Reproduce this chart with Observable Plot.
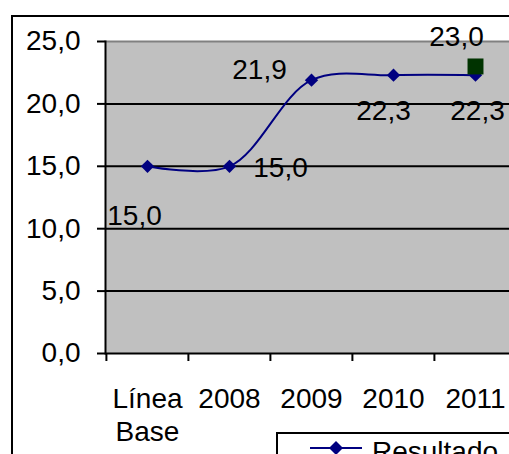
<!DOCTYPE html>
<html><head><meta charset="utf-8">
<script src="https://cdn.jsdelivr.net/npm/d3@7"></script>
<script src="https://cdn.jsdelivr.net/npm/@observablehq/plot@0.6"></script>
<style>
html,body{margin:0;padding:0;background:#fff;}
body{width:509px;height:454px;overflow:hidden;position:relative;font-family:"Liberation Sans",Arial,sans-serif;}
#outer{position:absolute;left:11px;top:15px;width:700px;height:700px;border-left:2px solid #000;border-top:2px solid #000;box-sizing:border-box;}
#chart{position:absolute;left:0;top:0;}
#legend{position:absolute;left:276px;top:432px;width:300px;height:60px;border:2px solid #000;background:#fff;box-sizing:border-box;}
#legend span{position:absolute;left:94px;top:4px;font-size:28px;line-height:28px;color:#000;white-space:nowrap;}
#legend svg{position:absolute;left:0;top:0;}
</style>
</head><body>
<div id="outer"></div>
<div id="chart"></div>
<div id="legend"><svg width="100" height="30"><line x1="32" x2="84" y1="14" y2="14" stroke="#000080" stroke-width="2"/><path d="M58,7L65,14L58,21L51,14Z" fill="#000080"/></svg><span>Resultado</span></div>
<script>
const categories = ["Línea Base", "2008", "2009", "2010", "2011"];
const resultado = [15.0, 15.0, 21.9, 22.3, 22.3];
const metaCategories = ["2011"];
const metaValues = [23.0];
const yTicks = [0, 5, 10, 15, 20, 25];
const gridTicks = [0, 5, 10, 15, 20];
const xTickLabels = ["Línea\nBase", "2008", "2009", "2010", "2011"];

const data = categories.map((c, i) => ({cat: c, value: resultado[i]}));
const meta = metaCategories.map((c, i) => ({cat: c, value: metaValues[i]}));
const fmt = d => d.toFixed(1).replace(".", ",");
const half = (516 - 105) / categories.length / 2;
const lbl = (i, dx, dy) => Plot.text(data.filter((d, j) => j === i), {x: "cat", y: "value", text: d => fmt(d.value), dx, dy, fill: "#000"});

const chart = Plot.plot({
  width: 509, height: 454,
  marginLeft: 105, marginTop: 41, marginBottom: 101, marginRight: -10,
  style: {fontFamily: "'Liberation Sans', Arial, sans-serif", fontSize: "28px", background: "transparent", color: "#000", overflow: "hidden"},
  x: {type: "point", domain: categories, range: [105, 516], padding: 0.5},
  y: {domain: [0, 25], range: [353, 41]},
  marks: [
    Plot.frame({fill: "#c0c0c0"}),
    Plot.gridY(gridTicks, {stroke: "#000", strokeOpacity: 1, strokeWidth: 2}),
    Plot.ruleY([25], {stroke: "#808080", strokeWidth: 2}),
    Plot.frame({anchor: "left", stroke: "#000", strokeWidth: 2}),
    Plot.axisY(yTicks, {tickSize: 8, tickPadding: 17, tickFormat: fmt, strokeWidth: 2, label: null}),
    Plot.axisX({tickSize: 8, dx: -half, text: null, strokeWidth: 2, label: null}),
    Plot.axisX({tickSize: 0, tickPadding: 32, tickFormat: (d, i) => xTickLabels[categories.indexOf(d)], lineHeight: 1.15, label: null}),
    Plot.line(data, {x: "cat", y: "value", stroke: "#000080", strokeWidth: 2, curve: "catmull-rom"}),
    Plot.dot(data, {x: "cat", y: "value", symbol: "diamond2", r: 6, fill: "#000080"}),
    Plot.dot(meta, {x: "cat", y: "value", symbol: "square", r: 9, fill: "#003300"}),
    lbl(0, -13, 50),
    lbl(1, 51, 2),
    lbl(2, -52, -10),
    lbl(3, -10, 36),
    lbl(4, 2, 36),
    Plot.text(meta, {x: "cat", y: "value", text: d => fmt(d.value), dx: -19, dy: -29, fill: "#000"})
  ]
});
document.getElementById("chart").appendChild(chart);
</script>
</body></html>
